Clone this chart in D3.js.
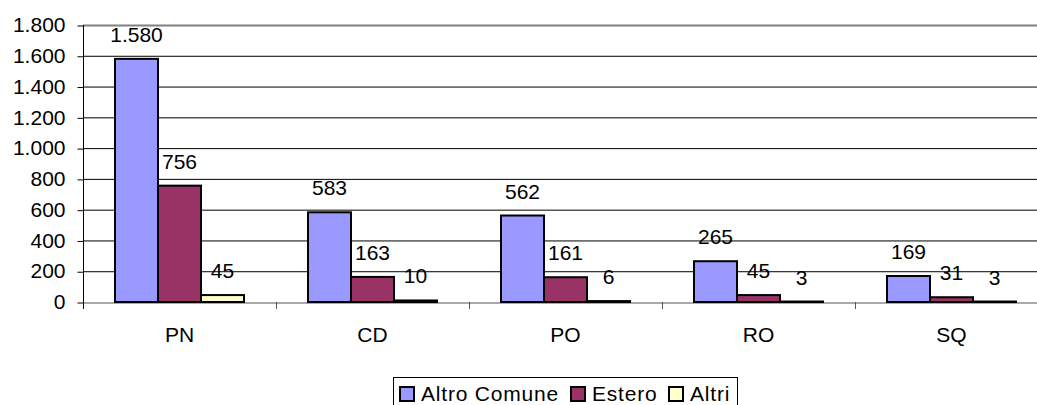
<!DOCTYPE html>
<html><head><meta charset="utf-8">
<script src="https://cdn.jsdelivr.net/npm/d3@7"></script>
<style>body{margin:0;background:#fff}svg{display:block;font-family:Arial,"Liberation Sans",sans-serif}</style>
</head><body><svg id="c" width="1037" height="405"></svg>
<script>
const categories = ["PN","CD","PO","RO","SQ"];
const seriesNames = ["Altro Comune","Estero","Altri"];
const altroComune = [1580,583,562,265,169];
const estero = [756,163,161,45,31];
const altri = [45,10,6,3,3];
const yTicks = [0,200,400,600,800,1000,1200,1400,1600,1800];
const colors = ["#9999FF","#993366","#FFFFCC"];
const seriesValues = [altroComune, estero, altri];

const svg = d3.select("#c");
const FONT = "Arial, 'Liberation Sans', sans-serif";
const pLeft = 83, pTop = 25, pBottom = 302, band = 193;
const x = d3.scaleBand().domain(categories).range([pLeft, pLeft + band*categories.length]).paddingInner(0).paddingOuter(0);
const xs = d3.scaleBand().domain(seriesNames).range([32, 161]);
const y = d3.scaleLinear().domain([0,1800]).range([pBottom, pTop]);
const fmt = v => d3.format(",")(v).replace(/,/g, ".");

// gridlines
svg.append("g").selectAll("line").data(yTicks.filter(d=>d>0)).join("line")
  .attr("x1", pLeft).attr("x2", 1037)
  .attr("y1", d=>y(d)+0.5).attr("y2", d=>y(d)+0.5)
  .attr("stroke", d=> d===1800 ? "#808080" : "#000").attr("stroke-width", d=> d===1800 ? 2 : 1);

// y axis
const yAxis = svg.append("g").attr("transform", `translate(${pLeft+0.5},0)`)
  .call(d3.axisLeft(y).tickValues(yTicks).tickFormat(fmt).tickSize(6).tickPadding(12));
yAxis.select(".domain").remove();
yAxis.selectAll(".tick line").attr("stroke","#000").attr("transform","translate(0,0.5)");
yAxis.selectAll("text").attr("font-size","21px").attr("fill","#000").attr("font-family",FONT);
svg.append("line").attr("x1", pLeft+0.5).attr("x2", pLeft+0.5).attr("y1", pTop).attr("y2", pBottom+7).attr("stroke","#000");

// x axis
const xAxis = svg.append("g").attr("transform", `translate(0,${pBottom+0.5})`)
  .call(d3.axisBottom(x).tickSize(0).tickPadding(25));
xAxis.select(".domain").attr("stroke","#555");
xAxis.selectAll("text").attr("font-size","21px").attr("fill","#000").attr("font-family",FONT);
svg.append("g").selectAll("line").data(categories.slice(1)).join("line")
  .attr("x1", d=>x(d)+0.5).attr("x2", d=>x(d)+0.5).attr("y1", pBottom).attr("y2", pBottom+7).attr("stroke","#555");

// bars
const groups = svg.append("g").selectAll("g").data(categories).join("g")
  .attr("transform", d=>`translate(${x(d)},0)`);
seriesNames.forEach((s, si) => {
  groups.append("rect")
    .attr("x", (d,i)=>xs(s))
    .attr("y", (d,i)=>y(seriesValues[si][i]))
    .attr("width", xs.bandwidth())
    .attr("height", (d,i)=>pBottom - y(seriesValues[si][i]))
    .attr("fill", colors[si]).attr("stroke","#000").attr("stroke-width",2);
  groups.append("text")
    .attr("x", (d,i)=>xs(s)+xs.bandwidth()/2)
    .attr("y", (d,i)=>y(seriesValues[si][i]) - 17)
    .attr("text-anchor","middle").attr("font-size","21px").attr("font-family",FONT)
    .text((d,i)=>fmt(seriesValues[si][i]));
});

// legend
const lg = svg.append("g");
lg.append("rect").attr("x",393.5).attr("y",377.5).attr("width",344).attr("height",40).attr("fill","#fff").attr("stroke","#000");
const legendX = [399, 570, 668];
seriesNames.forEach((s, si) => {
  lg.append("rect").attr("x", legendX[si]+1).attr("y", 387).attr("width", 14).attr("height", 14)
    .attr("fill", colors[si]).attr("stroke","#000").attr("stroke-width",2);
  lg.append("text").attr("x", legendX[si]+22).attr("y", 401).attr("font-size","21px")
    .attr("letter-spacing","0.8px").attr("font-family",FONT).text(s);
});
</script></body></html>
